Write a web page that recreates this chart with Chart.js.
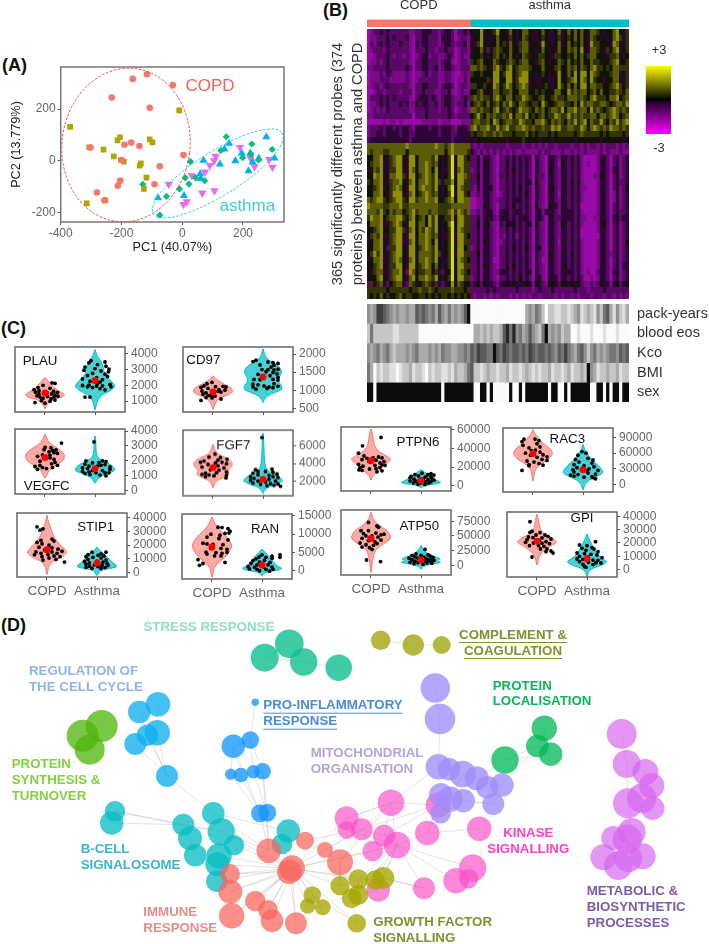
<!DOCTYPE html>
<html><head><meta charset="utf-8">
<style>html,body{margin:0;padding:0;background:#fff;width:709px;height:944px;overflow:hidden}
canvas{position:absolute;display:block}
.letter{position:absolute;font:bold 18px "Liberation Sans";color:#111;line-height:20px}</style>
<script src="https://cdn.jsdelivr.net/npm/chart.js@4"></script></head><body>
<div class="letter" style="left:2px;top:55px">(A)</div>
<div class="letter" style="left:323px;top:0px">(B)</div>
<div class="letter" style="left:1px;top:318px">(C)</div>
<div class="letter" style="left:1px;top:615px">(D)</div>
<script>
/* ---------- Panel A: PCA scores [PC1, PC2] ---------- */
const pcaRed=[[-163,317],[-116,335],[-31,293],[-232,245],[-107,205],[-302,51],[-190,62],[-168,71],[-141,57],[4,22],[-74,-21],[-199,3],[-204,-77],[-212,-97],[-91,-91],[-281,-123],[-256,-153]];
const pcaOlive=[[-10,195],[-369,131],[-306,52],[-259,43],[-213,79],[-205,91],[-107,83],[-98,71],[-225,17],[-202,3],[-192,-3],[-136,-10],[-140,-19],[-118,-65],[-126,-109],[-314,-165],[-253,-153]];
const pcaGreen=[[145,93],[229,65],[296,44],[127,40],[226,26],[199,12],[27,-3],[10,-66],[74,-77],[44,-66],[-9,-109],[22,-90],[-130,-91],[-52,-138],[-74,-210],[251,3]];
const pcaBlue=[[277,92],[154,67],[139,45],[70,1],[124,-13],[175,0],[196,29],[224,29],[232,-5],[252,10],[304,10],[218,-39],[59,-51],[61,-69],[-80,-144],[6,-135]];
const pcaMagenta=[[190,52],[110,18],[105,0],[91,-18],[75,-43],[32,-58],[-44,-91],[66,-125],[106,-116],[15,-158],[4,-169],[225,9],[238,-23],[286,5],[297,-25]];
const pcaXTicks=[-400,-200,0,200], pcaYTicks=[-200,0,200];

/* ---------- Panel B: heatmap, digit 0 (-3) .. 9 (+3) per cell ---------- */
const upperCopd=["12334343 33333223 34443323 44313343","12233343 43334213 34433324 44312332","13234343 33433214 34433323 44323342","12333243 33333213 33433233 43312332","11233343 23323212 34423322 34312322","12232343 33333213 34433323 44212332","22333343 33334313 34433423 44322333","12223243 22223212 23423322 33211232","12223332 22223212 33333322 33212232","12332343 33333213 34433323 44312332","11233233 33233313 34333223 34212322","13334343 43333213 44434323 44322343","12234343 33434224 34433423 44323342","12323243 33333223 33433323 34312332","22333333 33333313 33433333 34323333","11111212 21211111 12222212 22111222","23334344 34344324 44434434 44324443","23344344 44344334 44444434 44334444","34444444 44444344 44444444 44344444"];
const upperAsthma=["5458454685 5475457754 4575445745 7575754776 545578546","4558454575 5465457654 4565445645 6575754765 454578646","5468545575 6475467745 5485545745 7565754866 555487546","4557464676 5575567755 4575454755 7675854776 546578456","5556545675 6575457645 5665546655 6575756775 554667545","6567555765 5676567755 4675455765 7565755766 555678556","7767654786 5785677765 5575556755 7675765786 656577666","6556555885 6885678855 4565454855 7585885876 555677456","5555564885 5884688845 4455445855 6785875865 545577546","6655655875 6875678745 5456545865 7575885776 655678656","5567454775 6675577755 6565557755 8676775675 755667647","6767665786 5775668765 5675567665 7776765786 665778567","5676575675 7686577656 6586556776 6575867766 776567768","7767665785 6765687765 7675677685 7786775867 656787676","5686576766 7685776856 5675668766 8676766775 776787567","6776675875 6776687665 7786576765 7686785766 865768678","7867786686 7866778767 6676687866 7766875787 676877676","6566766767 6665666756 5666565666 6656766666 565666656","5455555555 5455556555 5455545555 5545555555 455555545"];
const lowerCopd=["77777777 77778777 77777877 67877777","76777667 77775777 77777777 57877776","55778546 78854885 77776854 56958865","56778446 78854885 77876754 56958866","45768546 68844875 77875854 46947866","55878547 78864885 67876854 56958876","65778546 77855785 77876864 66858866","55678456 78754885 78776854 57958766","55778546 88854785 67876754 56948865","76788656 78865886 77877855 67858877","87777667 77866777 77777766 66777777","77768657 67756786 77767766 67868767","68778567 78865785 67586855 66858866","57778446 78754885 77586854 57958866","55678556 68864785 76876854 56958766","56768446 78854885 77876754 46948865","45778546 78844785 77875854 56958866","55778536 68854885 67876854 56958856","56868546 78854885 77776864 56948866","45778446 78754785 77876854 46958765","55678546 68854885 67875754 56958866","54677446 77853875 66775643 55948765","55578546 78854785 77876854 56958866","36467435 67743764 56764643 45847655","66666656 66666566 76676566 66766656","65657565 56756655 66565656 65656565"];
const lowerAsthma=["3232333333 3233332332 3232332333 3233232332 323332323","4323232323 2323223222 2323322232 2323232222 323222322","3342443213 3434343431 4321443244 3434211112 443134234","3342543213 3534343431 4321443154 3434212112 443134234","2342443213 3435343431 4321543244 3434211112 443144234","3352443214 3434343431 4331443244 3434211122 543134234","3342443213 3434343441 5321443244 3535211112 443134334","3242444213 3434353431 4321453244 3434221112 443134235","2232443212 3434343531 4321443144 3434211112 443124234","1122443223 3434443431 4321443244 3434211112 443124234","1122543213 3435343431 5321544244 3434111112 443134234","2232444214 4434443431 4424443244 4434211112 443134334","3342444324 4434344431 4431443344 4434221122 443144344","3352453214 3545343441 5321443254 3434211112 453134234","3342443213 3434343431 4321443244 3434111112 443134234","3342443213 2434243431 4321443244 3434111111 443134234","3342543212 3434343431 4321443144 3434211112 443134235","2342443213 3435343531 4421443244 3434211112 443134234","3352443213 3434343431 4321543244 3534211112 443234234","3342443113 3434343431 4311443244 3434211112 443134234","3342543213 3535343431 4321443245 3434211112 443134244","3342443224 4434343441 4321443244 4434212113 443144234","2342443213 3434353431 4421444244 3434311212 443134234","3453544324 4545444542 5432554355 4545322323 544245345","3333343433 3333433332 3433343333 3343332333 343333333","3233232323 3323232323 3233332323 3232333233 323323232"];
const heatPalette=["#d010d8","#9a0aa8","#7a0a88","#5a0866","#2c0634","#121205","#343406","#5c5c08","#8e8e0a","#d8d806"];
const columnGroups=["COPD","asthma"], groupColumns=[32,49];
/* clinical tracks: digit 0 (black) .. 9 (white) */
const trackNames=["pack-years","blood eos","Kco","BMI","sex"];
const packYears="56522345656656634345463564656530"+"99999999999999999"+"65645797788778765876785743685786";
const bloodEos="7477777788777777"+"99999999999999999"+"667676776"+"3141"+"5465"+"3567"+"40"+"6565"+"766"+"998999899989998999";
const kco="56546546766656546665656455665545"+"3423344034234334342343343453424564357546565445343";
const bmi="46978778898776877897877887867764"+"3778767787768778767878776877"+"87687767"+"0"+"5687767"+"768777768";
const sexTrack="00900000000000000000000900000000099009099999099"+"09"+"0000000"+"9"+"00"+"99"+"0"+"9"+"000000"+"99"+"00"+"9"+"0"+"9"+"00"+"9"+"00";

/* ---------- Panel C: violin profiles [value, half-width], jittered dots [offset, value], means ---------- */
const plauCopdShape=[[2480,.005],[2250,.07],[2000,.14],[1800,.2],[1600,.3],[1400,.385],[1250,.34],[1100,.17],[900,.08],[700,.03],[520,.005]];
const plauAsthmaShape=[[4250,.005],[3900,.04],[3600,.1],[3300,.15],[3000,.17],[2700,.2],[2400,.28],[2100,.37],[1900,.39],[1650,.3],[1400,.15],[1100,.07],[800,.03],[460,.005]];
const plauCopdDots=[[.14,2150],[.2,2110],[-.04,1990],[-.14,1850],[.1,1800],[-.22,1720],[-.12,1650],[-.19,1560],[.04,1530],[.17,1620],[.25,1550],[-.12,1450],[.13,1450],[.2,1380],[-.16,1330],[-.1,1250],[.05,1290],[.18,1250],[.26,1300],[-.04,1170],[.12,1130],[.2,1060],[-.07,1020],[.1,980],[-.2,900],[0,860]];
const plauAsthmaDots=[[-.08,3550],[-.12,3420],[.2,3470],[.05,3300],[.22,3200],[-.2,3150],[0,3050],[.28,3020],[-.22,2950],[.12,2900],[.27,2850],[-.05,2750],[.2,2700],[-.15,2600],[.25,2550],[.03,2480],[-.25,2400],[.15,2350],[-.1,2250],[.1,2200],[-.25,1980],[.05,2100],[-.12,2000],[.15,1960],[.3,2050],[.32,1900],[-.05,1850],[.1,1780],[-.15,1900],[.03,1950],[.2,1700],[-.1,1250],[-.2,1250]];
const plauMeans=[1500,2300], plauTicks=[1000,2000,3000,4000];

const cd97CopdShape=[[1400,.005],[1320,.05],[1250,.12],[1150,.25],[1050,.37],[950,.385],[880,.3],[800,.17],[720,.09],[620,.04],[480,.005]];
const cd97AsthmaShape=[[2140,.005],[2000,.03],[1900,.07],[1800,.15],[1700,.27],[1600,.35],[1500,.37],[1350,.32],[1250,.31],[1120,.37],[1020,.37],[930,.22],[830,.08],[750,.03],[670,.005]];
const cd97CopdDots=[[-.02,1220],[-.12,1180],[-.18,1120],[.05,1100],[-.24,1080],[.2,1110],[.26,1090],[-.1,1050],[.12,1020],[.24,1000],[-.22,980],[.1,970],[-.14,930],[.02,900],[-.2,890],[.16,950],[-.1,850],[.04,840],[-.14,800],[-.02,790],[.16,760],[-.24,720],[-.05,860]];
const cd97AsthmaDots=[[-.14,1830],[-.2,1790],[.1,1780],[.2,1760],[.3,1740],[-.06,1700],[.22,1690],[.16,1640],[-.02,1570],[.1,1570],[.22,1560],[.3,1580],[.06,1510],[.2,1490],[.28,1450],[-.1,1440],[.14,1400],[.3,1350],[-.18,1300],[-.06,1290],[.2,1300],[.3,1280],[-.2,1170],[-.1,1150],[.02,1120],[.22,1180],[.3,1110],[.12,1090],[-.2,1090],[-.14,1030],[.08,1050],[.2,1070]];
const cd97Means=[950,1365], cd97Ticks=[500,1000,1500,2000];

const vegfcCopdShape=[[3780,.005],[3500,.04],[3200,.09],[2950,.2],[2700,.31],[2450,.38],[2250,.385],[2000,.35],[1750,.25],[1500,.12],[1200,.06],[850,.005]];
const vegfcAsthmaShape=[[3670,.005],[3300,.015],[2900,.02],[2500,.03],[2200,.07],[2000,.17],[1800,.28],[1550,.38],[1350,.39],[1150,.25],[950,.12],[750,.05],[520,.005]];
const vegfcCopdDots=[[.33,3190],[0,2900],[.12,2870],[-.02,2750],[.15,2700],[.22,2730],[.08,2600],[.18,2550],[-.05,2400],[.1,2380],[.25,2500],[-.15,2300],[.1,2200],[.18,2100],[-.1,1980],[.2,1900],[.13,1800],[.25,1700],[-.1,1700],[-.2,1620],[-.05,1550],[.15,1550],[.03,1480],[-.15,1430]];
const vegfcAsthmaDots=[[-.02,3270],[-.18,2000],[.15,2000],[.22,1950],[-.05,1860],[.08,1880],[-.2,1780],[.2,1750],[-.12,1650],[.05,1650],[.12,1700],[.3,1600],[-.25,1520],[-.15,1480],[.3,1430],[-.05,1350],[.15,1350],[-.25,1280],[-.12,1250],[.02,1200],[.2,1200],[.28,1200],[-.2,1150],[-.1,1080],[.1,1050],[.22,1000]];
const vegfcMeans=[2220,1470], vegfcTicks=[0,1000,2000,3000,4000];

const fgf7CopdShape=[[6230,.005],[5700,.03],[5200,.08],[4800,.2],[4400,.33],[4000,.385],[3600,.36],[3200,.3],[2800,.32],[2500,.25],[2100,.1],[1700,.03],[1230,.005]];
const fgf7AsthmaShape=[[7500,.005],[6500,.015],[5500,.02],[4500,.03],[3700,.05],[3200,.1],[2800,.22],[2400,.34],[2050,.39],[1700,.3],[1350,.13],[1000,.04],[580,.005]];
const fgf7CopdDots=[[.04,5100],[-.08,4750],[.15,4700],[.28,4500],[.1,4400],[-.18,4300],[-.25,4150],[.05,4100],[.18,4150],[.27,4000],[-.1,3900],[.1,3750],[-.22,3600],[.22,3500],[-.05,3300],[.12,3250],[.27,3050],[.07,2950],[-.15,2900],[-.22,2750],[-.08,2700],[.27,2650],[.02,2600],[-.15,2500],[.26,2350]];
const fgf7AsthmaDots=[[-.02,7000],[-.15,3300],[.18,3350],[-.1,3100],[.05,3100],[.2,3000],[-.2,2900],[.28,2800],[-.1,2700],[.12,2650],[-.25,2500],[.2,2500],[.3,2400],[-.18,2300],[0,2300],[.12,2200],[-.25,2050],[-.1,2000],[.25,2000],[.05,1900],[-.2,1750],[.15,1700],[.3,1650],[-.05,1600],[.22,1500],[.35,1400],[.08,1450]];
const fgf7Means=[3540,2190], fgf7Ticks=[2000,4000,6000];

const stip1CopdShape=[[41900,.005],[37000,.03],[32000,.08],[27000,.13],[23000,.2],[19000,.3],[16000,.38],[14000,.385],[11000,.28],[8000,.12],[5000,.05],[2000,.02],[-1500,.005]];
const stip1AsthmaShape=[[18600,.005],[16500,.05],[14500,.11],[12000,.18],[9500,.25],[7000,.32],[5000,.39],[3800,.38],[2500,.2],[1000,.07],[-2260,.005]];
const stip1CopdDots=[[-.2,33500],[-.08,32000],[-.14,31000],[-.12,23500],[.1,24500],[.14,23000],[-.2,22000],[-.1,21000],[.04,20000],[-.16,18500],[.1,18000],[-.05,16500],[.22,17000],[-.22,15000],[.1,15000],[.3,15500],[-.12,14000],[.2,14000],[-.25,13000],[.02,13000],[.14,12000],[-.1,11500],[.26,11500],[.04,10500],[.18,9500],[-.08,9000],[.35,7500]];
const stip1AsthmaDots=[[-.1,14800],[.18,14800],[.08,13500],[-.18,13000],[.02,12500],[.14,12000],[-.22,11500],[-.08,11000],[.08,10500],[-.18,9500],[.18,9000],[-.25,8000],[0,8200],[.12,7500],[-.15,7000],[.2,6500],[-.22,6000],[-.05,5500],[.1,5200],[.22,5000],[-.15,4500],[.02,4200],[-.22,3500],[.16,3500],[-.1,3000],[.08,2800]];
const stip1Means=[16700,6800], stip1Ticks=[0,10000,20000,30000,40000];

const ranCopdShape=[[14700,.005],[13500,.04],[12000,.1],[10500,.2],[9000,.31],[7500,.38],[6500,.39],[5000,.34],[3500,.25],[2000,.12],[500,.04],[-1840,.005]];
const ranAsthmaShape=[[5900,.005],[5000,.06],[4000,.13],[3000,.19],[2000,.25],[1200,.31],[600,.39],[200,.35],[-300,.15],[-800,.04],[-1470,.005]];
const ranCopdDots=[[.12,11900],[.2,11800],[.32,11500],[.36,10800],[.34,10300],[.26,10200],[-.02,10000],[.16,9700],[-.1,9200],[.14,8800],[.32,8400],[-.18,7500],[-.1,7300],[.02,7200],[.22,7100],[-.02,6000],[.18,6100],[.3,5800],[-.12,5000],[.08,4900],[.2,4700],[.3,5000],[-.1,4500],[.05,4000],[.18,4000],[-.28,2950],[.26,2200],[-.18,1900],[-.25,1400]];
const ranAsthmaDots=[[0,4300],[.36,4300],[.36,3600],[-.06,3700],[.2,3900],[.08,3600],[-.12,3200],[.2,3300],[-.18,2700],[.05,2800],[-.05,2300],[.16,2200],[-.22,1900],[-.1,1500],[.12,1500],[-.28,1000],[-.15,900],[.03,950],[.2,900],[-.25,400],[-.1,300],[.08,300],[.22,300],[-.05,-100],[.15,-200]];
const ranMeans=[6440,1480], ranTicks=[0,5000,10000,15000];

const ptpn6CopdShape=[[61000,.005],[55000,.03],[48000,.05],[42000,.08],[36000,.18],[32000,.31],[29000,.385],[26000,.36],[22000,.26],[18000,.2],[14000,.1],[10000,.03],[6100,.005]];
const ptpn6AsthmaShape=[[17200,.005],[15000,.06],[12500,.13],[10000,.2],[7500,.26],[5000,.34],[3500,.39],[2000,.3],[500,.1],[-1800,.005]];
const ptpn6CopdDots=[[.2,52000],[-.17,43000],[-.25,35000],[-.14,32000],[.15,31000],[-.08,29500],[.04,30000],[.22,30000],[-.18,28000],[.1,27500],[.26,26000],[-.04,26000],[.18,24500],[.22,22500],[-.25,23000],[-.16,21000],[.08,22000],[.28,22000],[-.22,19500],[.18,19500],[-.03,18000],[.1,18500],[-.24,17000],[-.18,16500],[.12,15000],[.22,16000]];
const ptpn6AsthmaDots=[[.02,13500],[.2,13000],[-.12,12000],[.14,12000],[.26,11500],[-.2,10000],[-.05,10500],[.1,9800],[.2,9500],[-.22,8500],[.05,8000],[.22,7800],[-.14,7000],[-.02,6500],[.14,6500],[.26,6000],[-.22,5000],[-.1,4800],[.08,4500],[.2,4300],[-.15,3000],[0,3000],[.15,2800],[-.06,1500],[.08,1300]];
const ptpn6Means=[26800,5700], ptpn6Ticks=[0,20000,40000,60000];

const rac3CopdShape=[[105000,.005],[97000,.04],[90000,.1],[82000,.17],[74000,.27],[66000,.36],[58000,.385],[50000,.32],[42000,.2],[34000,.09],[26000,.04],[16000,.02],[7000,.005]];
const rac3AsthmaShape=[[76700,.005],[68000,.03],[60000,.08],[52000,.14],[44000,.22],[36000,.31],[28000,.38],[22000,.39],[15000,.27],[8000,.12],[0,.04],[-10000,.005]];
const rac3CopdDots=[[-.18,87000],[-.22,82000],[.04,87000],[.12,84000],[.08,78000],[-.2,75000],[.14,72000],[-.08,70000],[-.03,65000],[.05,66000],[.14,62000],[-.15,60000],[-.05,56000],[.2,57000],[.28,53000],[.08,52000],[.18,48000],[-.12,45000],[.28,46000],[.02,43000],[.12,40000],[-.08,38000],[.2,37000],[-.08,36000],[-.22,27000]];
const rac3AsthmaDots=[[-.02,63000],[.06,60000],[-.1,56000],[.1,50000],[-.15,48000],[.2,47000],[-.08,43000],[.18,41000],[-.18,38000],[.02,36000],[.22,34000],[-.12,32000],[.12,30000],[-.2,28000],[.08,26000],[.3,27000],[-.18,24000],[.1,22000],[.25,20000],[-.25,18000],[-.1,19000],[.18,15000],[-.18,16000],[.02,14000],[.25,11000],[.2,13000]];
const rac3Means=[59500,28000], rac3Ticks=[0,30000,60000,90000];

const atp50CopdShape=[[90000,.005],[82000,.03],[74000,.09],[66000,.2],[58000,.33],[50000,.385],[45000,.38],[38000,.28],[30000,.14],[22000,.07],[12000,.04],[2000,.02],[-11900,.005]];
const atp50AsthmaShape=[[33500,.005],[28000,.04],[23000,.09],[18000,.17],[14000,.3],[11000,.38],[8000,.33],[5000,.39],[2000,.2],[-2000,.05],[-6200,.005]];
const atp50CopdDots=[[-.05,73000],[.12,67000],[.15,65000],[-.2,59000],[-.05,59000],[.1,55000],[-.15,54000],[.2,52000],[.26,53000],[-.1,50000],[.02,50000],[.14,48000],[-.18,46000],[.2,43000],[-.05,42000],[.08,40000],[-.22,38000],[.12,37000],[-.1,35000],[.05,34000],[-.18,31000],[-.03,30000],[.02,27000],[-.09,9000],[.19,6300]];
const atp50AsthmaDots=[[.08,27000],[-.1,19500],[.14,18000],[-.18,17000],[0,17000],[.18,16000],[-.12,14500],[.06,14000],[.24,13500],[-.24,12000],[-.06,12000],[.1,11500],[.2,11000],[-.18,9500],[.02,9500],[.14,9000],[.26,8500],[-.12,7000],[.06,6500],[.2,6000],[-.22,5000],[-.06,4500],[.12,4000],[.22,3500],[-.14,2500],[.04,2000]];
const atp50Means=[45500,9000], atp50Ticks=[0,25000,50000,75000];

const gpiCopdShape=[[41500,.005],[37000,.03],[33000,.05],[29000,.09],[26000,.19],[23000,.33],[20500,.39],[18000,.28],[15000,.17],[12000,.08],[8000,.03],[3500,.005]];
const gpiAsthmaShape=[[26750,.005],[23000,.04],[20000,.08],[17000,.12],[14000,.16],[11000,.22],[8500,.3],[6000,.39],[3500,.3],[1000,.12],[-2000,.03],[-5750,.005]];
const gpiCopdDots=[[-.14,36000],[-.1,28800],[-.14,28000],[.06,27800],[.16,26000],[-.02,26000],[.22,25000],[-.17,24500],[-.08,24000],[.1,23800],[.28,23000],[-.2,22500],[.04,22000],[.18,21000],[-.23,20500],[-.07,20000],[.1,19800],[.25,19500],[-.15,18000],[.03,18000],[.14,17500],[.07,15500],[.2,15500],[.28,14000],[.18,13500],[.32,12500],[-.1,9500]];
const gpiAsthmaDots=[[.17,21000],[-.15,18500],[0,18000],[-.1,16000],[.1,16500],[.14,15500],[-.02,14500],[.22,13500],[-.2,12500],[-.05,12000],[.08,11500],[.2,11000],[-.15,10000],[.02,9500],[.3,9000],[-.2,8000],[-.08,7800],[.12,7200],[.22,7000],[-.15,6000],[.03,5500],[.18,5200],[.28,5000],[-.08,4000],[.12,3800],[-.05,2500],[-.02,1800]];
const gpiMeans=[21250,8250], gpiTicks=[0,10000,20000,30000,40000];

/* ---------- Panel D: enrichment map nodes [x, y, size] and edges ---------- */
const stressNodes=[[264.7,657.7,14],[289.3,643.7,14.3],[303.7,662,13.7],[338.7,667.7,13.3]];
const cycleNodes=[[158,704.3,12.3],[139.3,712,11.3],[157.3,732.7,12.7],[147.3,735.3,10.7],[135.3,744,11],[167,776,11]];
const synthNodes=[[101.7,726,16],[82.7,735.7,16],[89.7,749.7,15]];
const inflamNodes=[[255.3,702.3,3.7],[233.3,746.3,11.7],[250.3,740,8.7],[230.7,774.3,5.7],[241,775,7.3],[253.3,771.7,6.7],[262.7,771.3,8.3],[260,813.3,9],[267.3,812.7,9]];
const bcellNodes=[[115,811.3,10.3],[111.7,823,11.7],[213.3,813.3,11.3],[183.3,824.7,11],[190,838.3,12],[221.3,831.7,13.7],[234,845.3,10.3],[195.3,855.3,11.3],[219,856,12.7],[217.3,864.3,12],[216.7,881.3,10.7],[288.3,831,11.7],[282,844,10.3]];
const immuneNodes=[[268.7,850.7,12.3],[305,840.7,9],[325,850,8],[340,862.3,13],[292,868.3,13],[289.3,871.7,12.3],[230,874,10],[230.3,891.7,12],[231.7,915.7,12.7],[255.3,901,10.3],[268,910,10],[272,920.7,11.3],[296,923.3,11]];
const growthNodes=[[312.3,895,8.7],[307.7,906,7.7],[322.7,907.3,8],[340,885.7,9.7],[358.3,879.3,10],[375,880,9.7],[383.3,878,11],[358.3,895,10],[351.7,898.3,10],[356.7,923.3,9.3]];
const complementNodes=[[380.7,640.3,9.7],[413.3,645,10.7],[441.7,645,9]];
const mitoNodes=[[435.3,688,14.7],[440,719,15.3],[438.3,766.7,12.7],[449,769.3,11.3],[462.7,774,13.3],[476.7,778.3,12],[487.3,787.3,11.3],[502,785,11.7],[493.3,804,11],[440.7,794.7,11.7],[463.3,800.7,11.7],[450,799.3,12.7],[440.7,813.3,10.3]];
const localNodes=[[505,760,13.7],[544.3,728.3,12.7],[537.3,746,11.3],[550.7,754.3,11.7]];
const kinaseNodes=[[391,802.7,13.3],[438.3,805,12.7],[361.7,829.3,11],[346.7,818.3,12],[346.7,830,9],[384,835.7,11],[427.3,833,12.3],[479.3,828.7,12.3],[397,845,13.3],[372.7,851,10.3],[472.7,868,13.7],[456,880.7,12.7],[468.7,878.7,9.7],[424,888.3,11],[378.3,890,11.7]];
const metabolicNodes=[[621.7,734,15],[626.7,764,14],[645.3,772,13],[651.7,785.7,12.7],[641.7,798.3,14.7],[652.7,808.3,11.7],[628,803.3,15],[631.7,832,14],[613.3,838,12],[627.3,839.3,14.7],[642.7,856.3,13],[603.3,857.3,13],[628.3,858.3,14],[618.3,865.7,14.3]];
const edgeList="T0-T1 T0-T2 T1-T2 T2-T3 C0-C1 C1-C2 R0-R2 R1-R2 R3-R5 R4-R5 R2-R5 R1-R5 R5-B2 P0-P2 P1-P2 P1-P3 P1-P4 P2-P5 P2-P6 P1-P7 P3-P7 P4-P7 P5-P8 P6-P8 P6-I0 P8-I0 P7-I0 B0-B3 B1-B3 B0-B5 B3-B5 B4-B7 B5-I0 B2-I0 B2-B11 B5-I4 B6-I4 B8-I4 B9-I4 B10-I4 B11-I4 I6-I4 I7-I4 I8-I4 I9-I4 I10-I4 I11-I4 I12-I4 I6-I5 I7-I5 I8-I5 I9-I5 I10-I5 I12-I5 F0-I4 F1-I4 F2-I4 F3-I4 F4-I4 F5-I4 I4-K3 I4-K2 I3-K2 I1-K2 I2-K2 K0-K2 K0-K3 K0-I3 I3-F3 K8-K5 K8-K9 K8-K6 K8-K13 K8-K11 K8-K10 K8-K0 K8-K14 K6-K7 K6-K1 K5-K1 K5-K0 K0-K1 K2-K1 K3-K0 K2-K5 K2-K9 K4-K8 K8-I4 K9-I4 K14-F4 K13-F6 M2-K0 M9-K6 M12-K6 M12-K1 M0-M1 M1-M2 M2-M3 M3-M4 M4-M5 M5-M6 M6-M7 M6-M8 M9-M10 M9-M11 M10-M8 M11-M8 M4-M11 M5-M10 M7-M8 M11-M12 L0-L2 L1-L2 L2-L3 L1-L3 L0-L3 M7-L2 M5-L0 V0-V1 V1-V6 V2-V1 V3-V2 V4-V3 V5-V4 V6-V7 V7-V9 V8-V9 V9-V12 V10-V12 V11-V12 V13-V12 F4-F5 F5-F6 F4-F7 F7-F8 F8-F9 F0-F1 F0-F2 F1-F2 F3-F4 I4-F9 F9-F0 K14-F7 F6-K13 K8-F4 K8-F5 K8-F6 K8-F7".split(" ");

/* ---------- helpers ---------- */
Chart.defaults.font.family='"Liberation Sans"';
Chart.defaults.animation=false;
Chart.defaults.responsive=false;
Chart.defaults.devicePixelRatio=1;
Chart.defaults.layout.autoPadding=false;
Chart.defaults.plugins.legend.display=false;
Chart.defaults.plugins.tooltip.enabled=false;
Chart.defaults.events=[];
const notesPlugin={id:'notes',afterDraw(c,a,o){const g=c.ctx,L=c.canvas.offsetLeft,T=c.canvas.offsetTop;
  (o.items||[]).forEach(n=>{g.save();g.font=n.font;g.fillStyle=n.color;g.textAlign=n.align||'left';g.textBaseline='middle';
   g.fillText(n.t,n.x-L,n.y-T);
   if(n.ul){const w=g.measureText(n.t).width,x0=n.align==='center'?n.x-L-w/2:n.x-L;g.fillRect(x0,n.y-T+7,w,1);}
   g.restore();});}};
const framePlugin={id:'frame',afterDatasetsDraw(c,a,o){if(!o.color)return;const g=c.ctx,r=c.chartArea;g.save();g.strokeStyle=o.color;g.lineWidth=o.width||1.5;g.strokeRect(r.left,r.top,r.width,r.height);g.restore();}};
const softenPlugin={id:'soften',afterDatasetsDraw(c,a,o){if(!o.radius)return;const g=c.ctx,r=c.chartArea;g.save();g.beginPath();g.rect(r.left,r.top,r.width,r.height);g.clip();g.filter='blur('+o.radius+'px)';g.drawImage(c.canvas,0,0);g.restore();}};
const ellipsePlugin={id:'ellipses',afterDatasetsDraw(c,a,o){(o.items||[]).forEach(e=>{const g=c.ctx;g.save();g.strokeStyle=e.color;g.lineWidth=1;g.setLineDash([2.6,1.6]);g.beginPath();
  g.ellipse(c.scales.x.getPixelForValue(e.cx),c.scales.y.getPixelForValue(e.cy),e.rx,e.ry,e.rot,0,Math.PI*2);g.stroke();g.restore();});}};
Chart.register(notesPlugin,framePlugin,softenPlugin,ellipsePlugin);
function canvasAt(x,y,w,h){const c=document.createElement('canvas');c.width=w;c.height=h;c.style.left=x+'px';c.style.top=y+'px';c.style.width=w+'px';c.style.height=h+'px';document.body.appendChild(c);return c;}
const noPad=s=>{s.paddingTop=s.paddingBottom=s.paddingLeft=s.paddingRight=0;};
const fixW=w=>s=>{s.width=w;noPad(s);}, fixH=h=>s=>{s.height=h;noPad(s);};
const setTicks=v=>s=>{s.ticks=v.map(t=>({value:t}));};
const pts=a=>a.map(p=>({x:p[0],y:p[1]}));
const tickStyle={drawOnChartArea:false,drawTicks:true,tickLength:3,color:'#555',lineWidth:1};
const noGrid={display:false,drawTicks:false};

/* ---------- A ---------- */
new Chart(canvasAt(5,60,300,195),{type:'scatter',
 data:{datasets:[
  {data:pts(pcaRed),backgroundColor:'#F8766D',pointStyle:'circle',pointRadius:3.3,borderWidth:0},
  {data:pts(pcaOlive),backgroundColor:'#B0A500',pointStyle:'rect',pointRadius:4,borderWidth:0},
  {data:pts(pcaGreen),backgroundColor:'#00BF7D',pointStyle:'rectRot',pointRadius:3.6,borderWidth:0},
  {data:pts(pcaBlue),backgroundColor:'#00B0F6',pointStyle:'triangle',pointRadius:4.7,borderWidth:0},
  {data:pts(pcaMagenta),backgroundColor:'#E76BF3',pointStyle:'triangle',pointRotation:180,pointRadius:4.9,borderWidth:0}]},
 options:{layout:{padding:{top:7,right:21,left:0,bottom:0}},
  scales:{
   x:{min:-400,max:335,afterBuildTicks:setTicks(pcaXTicks),afterFit:fixH(33),grid:tickStyle,border:{display:false},
      ticks:{color:'#666',font:{size:12},padding:1,maxRotation:0,autoSkip:false,callback:v=>String(v)},
      title:{display:true,text:'PC1 (40.07%)',color:'#222',font:{size:12.7},padding:{top:0,bottom:0}}},
   y:{min:-237,max:363,afterBuildTicks:setTicks(pcaYTicks),afterFit:fixW(55.7),grid:tickStyle,border:{display:false},
      ticks:{color:'#666',font:{size:12},padding:2,autoSkip:false,callback:v=>String(v)},
      title:{display:true,text:'PC2 (13.779%)',color:'#222',font:{size:12.7},padding:{top:4,bottom:0}}}},
  plugins:{frame:{color:'#777'},
   ellipses:{items:[{cx:-185,cy:61,rx:64,ry:77,rot:.12,color:'#F4484C'},{cx:117,cy:-49,rx:76,ry:22,rot:-.56,color:'#2CC8CC'}]},
   notes:{items:[{t:'COPD',x:210,y:86,align:'center',font:'17px "Liberation Sans"',color:'#F8605A'},{t:'asthma',x:247.3,y:206.7,align:'center',font:'17px "Liberation Sans"',color:'#3CCFCF'}]}}}});

/* ---------- B: group bar ---------- */
new Chart(canvasAt(367,0,262,27),{type:'bar',
 data:{labels:['group'],datasets:[
  {data:[groupColumns[0]],backgroundColor:'#F8766D',barPercentage:1,categoryPercentage:1,stack:'g'},
  {data:[groupColumns[1]],backgroundColor:'#00BFC4',barPercentage:1,categoryPercentage:1,stack:'g'}]},
 options:{indexAxis:'y',layout:{padding:0},
  scales:{x:{type:'linear',position:'top',min:0,max:81,stacked:true,afterBuildTicks:setTicks([16,56.5]),afterFit:fixH(19.5),
     grid:noGrid,border:{display:false},
     ticks:{padding:6,font:{size:13},color:'#333',maxRotation:0,autoSkip:false,callback:v=>v<30?columnGroups[0]:columnGroups[1]}},
   y:{display:false,stacked:true}}}});

/* ---------- B: heatmap ---------- */
const heatRows=[...upperCopd.map((r,i)=>r+upperAsthma[i]),...lowerCopd.map((r,i)=>r+lowerAsthma[i])].map(r=>r.replace(/ /g,''));
const columnIds=Array.from({length:81},(_,i)=>i+1);
new Chart(canvasAt(325,29,304,270),{type:'bar',
 data:{labels:columnIds,datasets:heatRows.map(r=>({data:columnIds.map(()=>1),
   backgroundColor:columnIds.map((_,c)=>heatPalette[+(r[c]||4)]),barPercentage:1.15,categoryPercentage:1,borderWidth:0}))},
 options:{layout:{padding:0},
  scales:{x:{display:false,stacked:true},
   y:{min:0,max:heatRows.length,reverse:true,stacked:true,afterFit:fixW(42),grid:noGrid,border:{display:false},ticks:{display:false},
      title:{display:true,text:['365 significantly different probes (374','proteins) between asthma and COPD'],color:'#333',font:{size:14.6,lineHeight:1.37},padding:{top:3,bottom:0}}}},
  plugins:{soften:{radius:.55}}}});

/* ---------- B: colour key ---------- */
new Chart(canvasAt(640,40,40,120),{type:'bar',
 data:{labels:['z'],datasets:[{data:[[-3,3]],barPercentage:1,categoryPercentage:1,borderWidth:0,borderSkipped:false,
   backgroundColor:ctx=>{const a=ctx.chart.chartArea;if(!a)return '#000';const g=ctx.chart.ctx.createLinearGradient(0,a.top,0,a.bottom);
     g.addColorStop(0,'#ffff00');g.addColorStop(.5,'#000000');g.addColorStop(.52,'#200028');g.addColorStop(1,'#ff00ff');return g;}}]},
 options:{layout:{padding:{left:5.7,right:9,top:26,bottom:26}},scales:{x:{display:false},y:{display:false,min:-3,max:3}},
  plugins:{notes:{items:[{t:'+3',x:659,y:50.5,align:'center',font:'13px "Liberation Sans"',color:'#333'},{t:'-3',x:659,y:148,align:'center',font:'13px "Liberation Sans"',color:'#333'}]}}}});

/* ---------- B: clinical tracks ---------- */
const tracks=[packYears,bloodEos,kco,bmi,sexTrack];
new Chart(canvasAt(367,304,342,98),{type:'bar',
 data:{labels:columnIds,datasets:tracks.map(t=>({data:columnIds.map(()=>1),
   backgroundColor:columnIds.map((_,c)=>{const v=Math.min(255,12+26.5*(+(t[c]||9)));return 'rgb('+v+','+v+','+v+')';}),barPercentage:1.12,categoryPercentage:1,borderWidth:0}))},
 options:{layout:{padding:0},
  scales:{x:{display:false,stacked:true},
   y:{position:'right',min:0,max:5,reverse:true,stacked:true,afterBuildTicks:setTicks([.5,1.5,2.5,3.5,4.5]),afterFit:fixW(80),
      grid:noGrid,border:{display:false},
      ticks:{color:'#333',font:{size:14.5},padding:8,autoSkip:false,callback:v=>trackNames[Math.floor(v)]}}},
  plugins:{soften:{radius:.4}}}});

/* ---------- C: violins ---------- */
const panels=[
 {n:'PLAU',cs:plauCopdShape,as:plauAsthmaShape,cd:plauCopdDots,ad:plauAsthmaDots,m:plauMeans,t:plauTicks,r:[15,346.7,65,304,4418],lab:[40,361]},
 {n:'CD97',cs:cd97CopdShape,as:cd97AsthmaShape,cd:cd97CopdDots,ad:cd97AsthmaDots,m:cd97Means,t:cd97Ticks,r:[182.7,347.3,65,401,2193],lab:[203.3,360]},
 {n:'VEGFC',cs:vegfcCopdShape,as:vegfcAsthmaShape,cd:vegfcCopdDots,ad:vegfcAsthmaDots,m:vegfcMeans,t:vegfcTicks,r:[15,429,65,-221,4134],lab:[46.7,486]},
 {n:'FGF7',cs:fgf7CopdShape,as:fgf7AsthmaShape,cd:fgf7CopdDots,ad:fgf7AsthmaDots,m:fgf7Means,t:fgf7Ticks,r:[182.7,430.3,65.4,304,7845],lab:[233.3,445]},
 {n:'STIP1',cs:stip1CopdShape,as:stip1AsthmaShape,cd:stip1CopdDots,ad:stip1AsthmaDots,m:stip1Means,t:stip1Ticks,r:[16.7,512.7,64,-3461,43682],lab:[95.7,527.3],x:1},
 {n:'RAN',cs:ranCopdShape,as:ranAsthmaShape,cd:ranCopdDots,ad:ranAsthmaDots,m:ranMeans,t:ranTicks,r:[181.7,514.3,65,-2371,15551],lab:[265,529],x:1},
 {n:'PTPN6',cs:ptpn6CopdShape,as:ptpn6AsthmaShape,cd:ptpn6CopdDots,ad:ptpn6AsthmaDots,m:ptpn6Means,t:ptpn6Ticks,r:[340.7,427,64.3,-5680,63214],lab:[418,442.7]},
 {n:'RAC3',cs:rac3CopdShape,as:rac3AsthmaShape,cd:rac3CopdDots,ad:rac3AsthmaDots,m:rac3Means,t:rac3Ticks,r:[503.3,427.7,64.6,-14430,108228],lab:[567.3,439.3]},
 {n:'ATP50',cs:atp50CopdShape,as:atp50AsthmaShape,cd:atp50CopdDots,ad:atp50AsthmaDots,m:atp50Means,t:atp50Ticks,r:[340.7,510,65,-16530,94260],lab:[419.3,526.7],x:1},
 {n:'GPI',cs:gpiCopdShape,as:gpiAsthmaShape,cd:gpiCopdDots,ad:gpiAsthmaDots,m:gpiMeans,t:gpiTicks,r:[506.7,512,65,-5470,43220],lab:[582,518.7],x:1}];
const outline=(cx,s)=>[...s.map(p=>({x:cx+p[1],y:p[0]})),...s.slice().reverse().map(p=>({x:cx-p[1],y:p[0]}))];
const jitter=(cx,d)=>d.map(p=>({x:cx+p[0],y:p[1]}));
panels.forEach(p=>{const [x,y,h,lo,hi]=p.r;
 new Chart(canvasAt(x-2,y-12,170,h+12+26),{type:'scatter',
  data:{datasets:[
   {data:[{x:1,y:p.m[0]},{x:2,y:p.m[1]}],backgroundColor:'#FF0000',pointRadius:3.5,borderWidth:0},
   {data:[...jitter(1,p.cd),...jitter(2,p.ad)],backgroundColor:'#000',pointRadius:1.9,borderWidth:0},
   {data:outline(1,p.cs),showLine:true,fill:'shape',tension:.3,pointRadius:0,borderColor:'#F8766D',borderWidth:1,backgroundColor:'rgba(248,118,109,.62)'},
   {data:outline(2,p.as),showLine:true,fill:'shape',tension:.3,pointRadius:0,borderColor:'#00BFC4',borderWidth:1,backgroundColor:'rgba(0,191,196,.72)'}]},
  options:{layout:{padding:{left:2,top:12,right:0,bottom:0}},
   scales:{
    x:{min:.4,max:2.6,afterBuildTicks:setTicks([1,2]),afterFit:fixH(26),grid:tickStyle,border:{display:false},
       ticks:{padding:3,color:'#666',font:{size:13.5},maxRotation:0,autoSkip:false,callback:v=>p.x?(v===1?'COPD':'Asthma'):''}},
    y:{position:'right',min:lo,max:hi,afterBuildTicks:setTicks(p.t),afterFit:fixW(58),grid:tickStyle,border:{display:false},
       ticks:{padding:3,color:'#666',font:{size:12},autoSkip:false,callback:v=>String(v)}}},
   plugins:{frame:{color:'#666'},notes:{items:[{t:p.n,x:p.lab[0],y:p.lab[1],align:'center',font:'13.3px "Liberation Sans"',color:'#111'}]}}}});
});

/* ---------- D: network ---------- */
const clusters=[['F',growthNodes,'rgba(166,166,0,.78)'],['M',mitoNodes,'rgba(160,140,250,.78)'],['L',localNodes,'rgba(0,184,88,.76)'],
 ['K',kinaseNodes,'rgba(251,80,200,.68)'],['I',immuneNodes,'rgba(248,100,92,.72)'],['P',inflamNodes,'rgba(20,150,252,.78)'],['B',bcellNodes,'rgba(10,190,196,.78)'],
 ['R',cycleNodes,'rgba(16,175,238,.78)'],['G',synthNodes,'rgba(80,180,10,.76)'],['T',stressNodes,'rgba(16,190,145,.8)'],['C',complementNodes,'rgba(165,168,20,.82)'],['V',metabolicNodes,'rgba(215,100,240,.68)']];
const nodeAt={};clusters.forEach(c=>c[1].forEach((n,i)=>{nodeAt[c[0]+i]=n;}));
const edgePts=[];edgeList.forEach(e=>{const [a,b]=e.split('-').map(k=>nodeAt[k]);edgePts.push({x:a[0],y:a[1]},{x:b[0],y:b[1]},{x:NaN,y:NaN});});
const nf='bold 13.3px "Liberation Sans"';
const dLabels=[
 ['STRESS RESPONSE',143.5,627,'#8FE0C6'],['REGULATION OF',29,671,'#8FB4EA'],['THE CELL CYCLE',29,687,'#8FB4EA'],
 ['PROTEIN',11.7,764.3,'#85CF45'],['SYNTHESIS &',11.7,780.3,'#85CF45'],['TURNOVER',11.7,796,'#85CF45'],
 ['PRO-INFLAMMATORY',263.3,705.7,'#4A8AD6',1],['RESPONSE',263.3,721.7,'#4A8AD6',1],
 ['MITOCHONDRIAL',310.7,753.3,'#B4A3D8'],['ORGANISATION',310.7,769.3,'#B4A3D8'],
 ['B-CELL',80.7,849,'#3FB3C9'],['SIGNALOSOME',80.7,865,'#3FB3C9'],['IMMUNE',143.3,912.7,'#E58C8C'],['RESPONSE',143.3,928.3,'#E58C8C'],
 ['COMPLEMENT &',513,635,'#7D9230',1,'center'],['COAGULATION',513,651,'#7D9230',1,'center'],
 ['PROTEIN',492.7,686,'#10B35C'],['LOCALISATION',492.7,701.7,'#10B35C'],
 ['KINASE',528.3,833,'#FF3FC0',0,'center'],['SIGNALLING',528.3,849,'#FF3FC0',0,'center'],
 ['METABOLIC &',586.7,891,'#7B5CA8'],['BIOSYNTHETIC',586.7,907,'#7B5CA8'],['PROCESSES',586.7,923,'#7B5CA8'],
 ['GROWTH FACTOR',373.3,922,'#7D9230'],['SIGNALLING',373.3,938,'#7D9230']];
new Chart(canvasAt(0,610,709,334),{type:'bubble',
 data:{datasets:[...clusters.map(c=>({data:c[1].map(n=>({x:n[0],y:n[1],r:n[2]})),backgroundColor:c[2],borderWidth:0,clip:false})),
  {type:'scatter',data:edgePts,showLine:true,spanGaps:false,pointRadius:0,borderColor:'rgba(170,170,170,.42)',borderWidth:.8,tension:0}]},
 options:{layout:{padding:0},scales:{x:{display:false,type:'linear',min:0,max:709},y:{display:false,type:'linear',min:610,max:944,reverse:true}},
  plugins:{notes:{items:dLabels.map(l=>({t:l[0],x:l[1],y:l[2],color:l[3],ul:l[4],align:l[5]||'left',font:nf}))}}}});
</script></body></html>
